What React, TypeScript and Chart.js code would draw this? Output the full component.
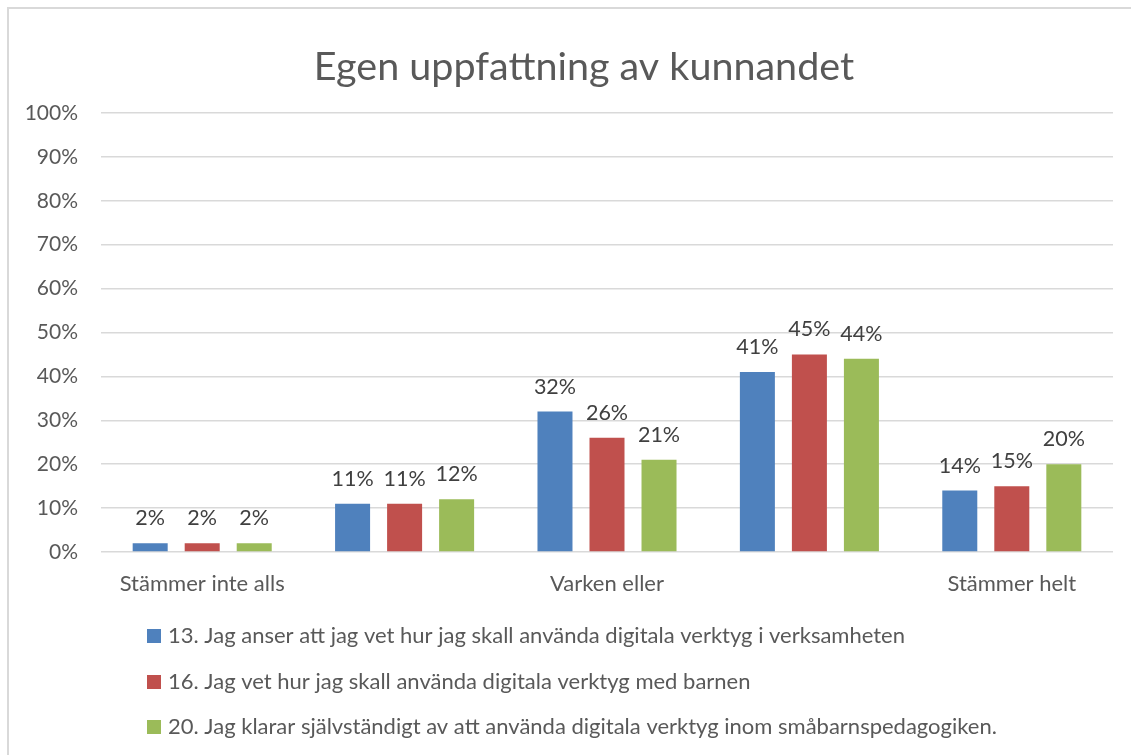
import React, { useEffect, useRef } from "react";
import { Chart, registerables } from "chart.js";

Chart.register(...registerables);

const title = "Egen uppfattning av kunnandet";
const categories = ["Stämmer inte alls", "", "Varken eller", "", "Stämmer helt"];
const seriesNames = [
  "13. Jag anser att jag vet hur jag skall använda digitala verktyg i verksamheten",
  "16. Jag vet hur jag skall använda digitala verktyg med barnen",
  "20. Jag klarar självständigt av att använda digitala verktyg inom småbarnspedagogiken.",
];
const series13 = [2, 11, 32, 41, 14];
const series16 = [2, 11, 26, 45, 15];
const series20 = [2, 12, 21, 44, 20];
const seriesColors = ["#4f81bd", "#c0504d", "#9bbb59"];

const FONT = "Lato, 'Open Sans', sans-serif";

const titlePlugin = {
  id: "titleDraw",
  afterDraw(chart: any) {
    const ctx = chart.ctx;
    ctx.save();
    ctx.font = `39.5px ${FONT}`;
    ctx.fillStyle = "#595959";
    ctx.textAlign = "center";
    ctx.textBaseline = "alphabetic";
    ctx.fillText(title, 575, 71);
    ctx.restore();
  },
};

const valueLabelPlugin = {
  id: "valueLabels",
  afterDatasetsDraw(chart: any) {
    const ctx = chart.ctx;
    ctx.save();
    ctx.font = `21.5px ${FONT}`;
    ctx.fillStyle = "#404040";
    ctx.textAlign = "center";
    ctx.textBaseline = "alphabetic";
    chart.data.datasets.forEach((ds: any, i: number) => {
      const meta = chart.getDatasetMeta(i);
      meta.data.forEach((el: any, j: number) => {
        ctx.fillText(`${ds.data[j]}%`, el.x, el.y - 18);
      });
    });
    ctx.restore();
  },
};

const legendPlugin = {
  id: "customLegend",
  afterDraw(chart: any) {
    const ctx = chart.ctx;
    ctx.save();
    ctx.font = `22px ${FONT}`;
    ctx.textAlign = "left";
    ctx.textBaseline = "alphabetic";
    const baselines = [634, 680, 725];
    chart.data.datasets.forEach((ds: any, i: number) => {
      const b = baselines[i];
      ctx.fillStyle = ds.backgroundColor;
      ctx.fillRect(138, b - 14, 14, 14);
      ctx.fillStyle = "#595959";
      ctx.fillText(ds.label, 159, b);
    });
    ctx.restore();
  },
};

export default function App() {
  const ref = useRef<HTMLCanvasElement>(null);
  useEffect(() => {
    if (!ref.current) return;
    const chart = new Chart(ref.current, {
      type: "bar",
      data: {
        labels: categories,
        datasets: [series13, series16, series20].map((d, i) => ({
          label: seriesNames[i],
          data: d,
          backgroundColor: seriesColors[i],
          categoryPercentage: 0.771,
          barPercentage: 0.673,
        })),
      },
      plugins: [titlePlugin, valueLabelPlugin, legendPlugin],
      options: {
        animation: false,
        responsive: false,
        layout: { padding: { top: 104, right: 18, bottom: 143, left: 0 } },
        plugins: {
          legend: { display: false },
          title: { display: false },
          tooltip: { enabled: false },
        },
        scales: {
          x: {
            grid: { display: false, drawTicks: false },
            border: { display: false },
            ticks: {
              color: "#595959",
              font: { family: FONT, size: 22 },
              padding: 19,
              autoSkip: false,
              maxRotation: 0,
            },
            afterFit(scale: any) {
              scale.height = 60;
            },
          },
          y: {
            min: 0,
            max: 100,
            grid: { color: "#d9d9d9", lineWidth: 1.5, drawTicks: false },
            border: { display: false },
            ticks: {
              stepSize: 10,
              color: "#595959",
              font: { family: FONT, size: 21 },
              padding: 23,
              callback: (v: any) => `${v}%`,
            },
            afterFit(scale: any) {
              scale.width = 92;
            },
          },
        },
      },
    });
    return () => chart.destroy();
  }, []);

  return (
    <div
      style={{
        position: "absolute",
        left: 7,
        top: 7,
        width: 1124,
        height: 748,
        borderTop: "2px solid #d9d9d9",
        borderLeft: "2px solid #d9d9d9",
        boxSizing: "border-box",
        background: "#fff",
        overflow: "hidden",
      }}
    >
      <canvas ref={ref} width={1122} height={746} style={{ display: "block", width: 1122, height: 746 }} />
    </div>
  );
}
